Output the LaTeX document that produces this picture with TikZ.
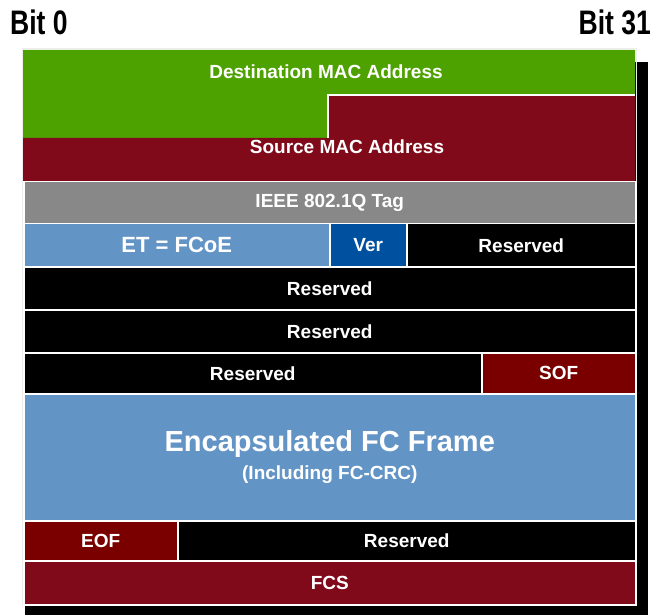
\documentclass[tikz,border=0pt]{standalone}
\usepackage{fontspec}
\setmainfont{Liberation Sans}
\usetikzlibrary{positioning}

\definecolor{macgreen}{RGB}{78,162,0}
\definecolor{macred}{RGB}{128,10,26}
\definecolor{tagggray}{RGB}{136,136,136}
\definecolor{fcoeblue}{RGB}{99,148,198}
\definecolor{verblue}{RGB}{0,80,160}
\definecolor{sofred}{RGB}{122,0,0}

\begin{document}
\begin{tikzpicture}[x=1pt,y=-1pt,
  field/.style={draw=white, line width=1.5pt, anchor=north west, inner sep=0pt,
    text=white, font=\fontsize{19}{21}\selectfont\bfseries},
  fieldtext/.style={text=white, inner sep=0pt, font=\fontsize{19}{21}\selectfont\bfseries},
  bitlabel/.style={inner sep=0pt, xscale=0.78, font=\fontsize{34}{36}\selectfont\bfseries}]
\useasboundingbox (0,0) rectangle (654,615);
% Shadow and frame
\fill[black] (25,62) rectangle (648,615);
\fill[white] (23,50) rectangle (635,604);
\draw[gray!15, line width=1pt] (22,49) rectangle (636,605);
% Bit labels
\node[bitlabel, anchor=west] (bit0) at (10,22) {Bit 0};
\node[bitlabel, anchor=east] (bit31) at (651,22) {Bit 31};
% MAC addresses
\fill[macgreen] (23,50) -- (635,50) -- (635,95) -- (328,95) -- (328,138) -- (23,138) -- cycle;
\fill[macred] (328,95) -- (635,95) -- (635,181) -- (23,181) -- (23,138) -- (328,138) -- cycle;
\draw[white, line width=1.5pt] (328,138) -- (328,95) -- (635,95);
\node[fieldtext] (dmac) at (326,72) {Destination MAC Address};
\node[fieldtext] (smac) at (347,147) {Source MAC Address};
% VLAN tag
\node[field, fill=tagggray, minimum width=612pt, minimum height=42pt] (tag) at (23,181) {IEEE 802.1Q Tag};
% Ethertype and version
\node[field, fill=fcoeblue, minimum width=306pt, minimum height=43pt,
  font=\fontsize{22}{24}\selectfont\bfseries] (et) at (23,223) {ET = FCoE};
\node[field, fill=verblue, minimum width=77pt, minimum height=43pt] (ver) at (329,223) {Ver};
\node[field, fill=black, minimum width=229pt, minimum height=43pt] (res1) at (406,223) {Reserved};
% Reserved rows
\node[field, fill=black, minimum width=612pt, minimum height=43pt] (res2) at (23,266) {Reserved};
\node[field, fill=black, minimum width=612pt, minimum height=43pt] (res3) at (23,309) {Reserved};
\node[field, fill=black, minimum width=458pt, minimum height=41pt] (res4) at (23,352) {Reserved};
\node[field, fill=sofred, minimum width=154pt, minimum height=41pt] (sof) at (481,352) {SOF};
% FC frame
\node[field, fill=fcoeblue, minimum width=612pt, minimum height=127pt, align=center] (fcframe) at (23,393)
  {{\fontsize{29}{32}\selectfont Encapsulated FC Frame}\\[7pt]
   {\fontsize{19}{21}\selectfont (Including FC-CRC)}};
% Trailer
\node[field, fill=sofred, minimum width=154pt, minimum height=40pt] (eof) at (23,520) {EOF};
\node[field, fill=black, minimum width=458pt, minimum height=40pt] (res5) at (177,520) {Reserved};
\node[field, fill=macred, minimum width=612pt, minimum height=44pt] (fcs) at (23,560) {FCS};
\end{tikzpicture}
\end{document}
